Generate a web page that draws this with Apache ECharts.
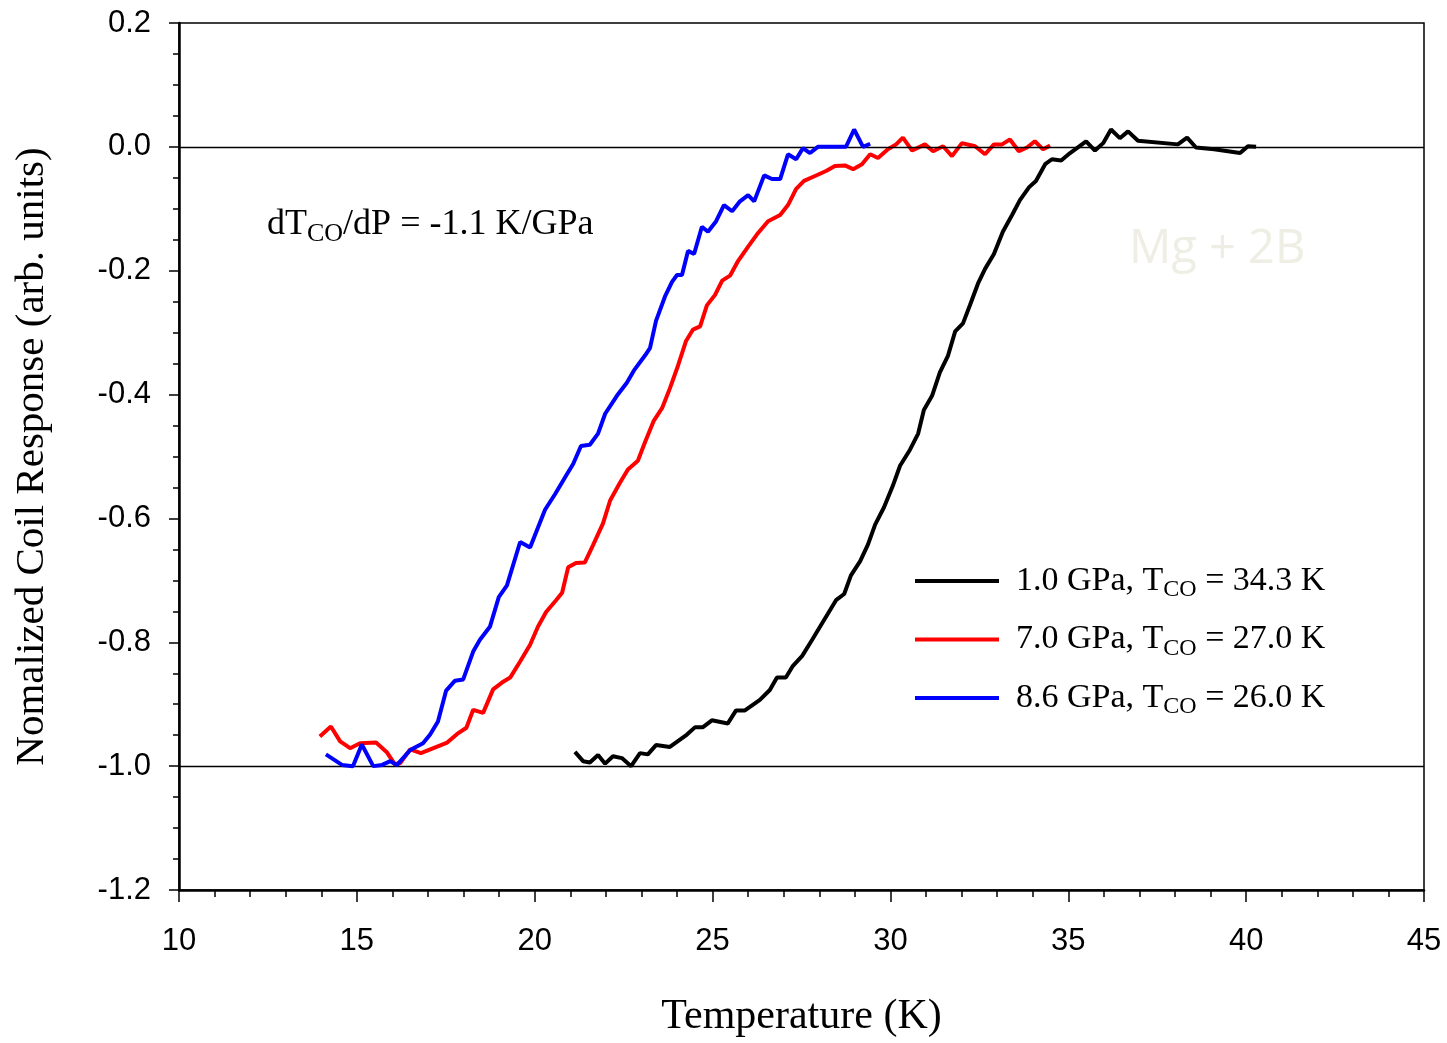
<!DOCTYPE html>
<html>
<head>
<meta charset="utf-8">
<script src="https://cdn.jsdelivr.net/npm/echarts@6/dist/echarts.min.js"></script>
<style>html,body{margin:0;padding:0;background:#fff;}#c{width:1447px;height:1043px;}</style>
</head>
<body>
<div id="c"></div>
<script>
// ---- Data ----
const xTicks = [10, 15, 20, 25, 30, 35, 40, 45];
const yTicks = [0.2, 0.0, -0.2, -0.4, -0.6, -0.8, -1.0, -1.2];

const seriesNames = ['1.0 GPa, T|CO| = 34.3 K', '7.0 GPa, T|CO| = 27.0 K', '8.6 GPa, T|CO| = 26.0 K'];

const tBlack = [21.13,21.36,21.55,21.78,21.98,22.20,22.45,22.71,22.96,23.18,23.41,23.80,24.28,24.51,24.73,24.98,25.43,25.66,25.91,26.33,26.61,26.81,27.06,27.26,27.52,27.80,28.02,28.25,28.47,28.70,28.89,29.15,29.37,29.57,29.82,30.07,30.27,30.55,30.78,30.94,31.17,31.39,31.62,31.82,32.04,32.24,32.46,32.66,32.91,33.16,33.42,33.64,33.90,34.09,34.35,34.54,34.80,35.05,35.50,35.75,35.98,36.20,36.45,36.68,36.96,38.08,38.34,38.59,39.10,39.83,40.05,40.28];
const vBlack = [-0.977,-0.992,-0.994,-0.982,-0.996,-0.984,-0.987,-1.0,-0.979,-0.981,-0.966,-0.969,-0.949,-0.937,-0.937,-0.926,-0.931,-0.910,-0.910,-0.893,-0.877,-0.857,-0.857,-0.838,-0.822,-0.796,-0.775,-0.753,-0.732,-0.722,-0.692,-0.669,-0.642,-0.610,-0.582,-0.547,-0.515,-0.489,-0.463,-0.425,-0.402,-0.364,-0.337,-0.298,-0.285,-0.255,-0.221,-0.197,-0.173,-0.137,-0.110,-0.086,-0.065,-0.055,-0.028,-0.020,-0.022,-0.010,0.009,-0.006,0.006,0.028,0.014,0.025,0.010,0.004,0.015,-0.001,-0.004,-0.010,0.001,0.0];

const tRed = [13.96,14.27,14.53,14.81,15.09,15.54,15.85,16.07,16.22,16.50,16.80,17.54,17.82,18.08,18.27,18.55,18.83,19.08,19.31,19.59,19.87,20.09,20.32,20.60,20.77,20.94,21.16,21.41,21.64,21.92,22.12,22.40,22.62,22.90,23.10,23.35,23.58,23.80,24.03,24.25,24.45,24.65,24.84,25.07,25.27,25.49,25.72,26.00,26.28,26.56,26.90,27.12,27.35,27.57,27.88,28.19,28.44,28.72,28.95,29.20,29.43,29.65,29.93,30.16,30.35,30.61,30.97,31.20,31.48,31.73,32.01,32.38,32.66,32.91,33.14,33.36,33.61,33.84,34.06,34.29,34.49];
const vRed = [-0.952,-0.936,-0.960,-0.971,-0.963,-0.962,-0.978,-0.997,-0.995,-0.973,-0.979,-0.962,-0.948,-0.938,-0.909,-0.914,-0.876,-0.865,-0.857,-0.831,-0.804,-0.775,-0.751,-0.732,-0.720,-0.679,-0.672,-0.671,-0.643,-0.608,-0.571,-0.542,-0.521,-0.507,-0.477,-0.442,-0.422,-0.390,-0.353,-0.314,-0.295,-0.290,-0.256,-0.239,-0.216,-0.208,-0.184,-0.161,-0.139,-0.120,-0.110,-0.094,-0.068,-0.055,-0.047,-0.039,-0.031,-0.030,-0.036,-0.028,-0.012,-0.018,-0.004,0.004,0.015,-0.006,0.004,-0.007,0.001,-0.015,0.006,0.001,-0.012,0.004,0.004,0.012,-0.007,-0.001,0.009,-0.004,0.002];

const tBlue = [14.13,14.58,14.89,15.14,15.46,15.71,15.94,16.13,16.50,16.86,17.06,17.28,17.51,17.76,17.99,18.27,18.46,18.74,18.99,19.22,19.59,19.87,20.29,20.57,20.88,21.08,21.30,21.55,21.78,21.98,22.31,22.59,22.79,23.10,23.24,23.41,23.66,23.86,24.00,24.14,24.31,24.48,24.70,24.87,25.10,25.32,25.55,25.77,26.00,26.17,26.45,26.67,26.90,27.12,27.35,27.54,27.74,27.96,28.19,28.75,28.98,29.23,29.43];
const vBlue = [-0.981,-0.998,-1.0,-0.965,-1.0,-0.998,-0.992,-0.998,-0.974,-0.963,-0.949,-0.928,-0.878,-0.862,-0.860,-0.815,-0.796,-0.775,-0.727,-0.708,-0.638,-0.647,-0.586,-0.561,-0.531,-0.512,-0.483,-0.481,-0.463,-0.431,-0.402,-0.381,-0.361,-0.337,-0.325,-0.281,-0.242,-0.218,-0.207,-0.207,-0.168,-0.173,-0.129,-0.137,-0.120,-0.094,-0.104,-0.088,-0.078,-0.088,-0.046,-0.052,-0.052,-0.012,-0.020,-0.002,-0.010,0.0,0.0,0.0,0.028,0.0,0.005];

const refLines = [0.0, -1.0];
const annotation = ['dT', 'CO', '/dP = -1.1 K/GPa'];
const watermark = 'Mg + 2B';

// ---- Build ----
function pairs(t, v) { return t.map((x, i) => [x, v[i]]); }
const colors = ['#000000', '#ff0000', '#0000ff'];
const dataSets = [pairs(tBlack, vBlack), pairs(tRed, vRed), pairs(tBlue, vBlue)];
const serif = '"Liberation Serif","Times New Roman",serif';
const sans = '"Liberation Sans",Arial,sans-serif';

const chart = echarts.init(document.getElementById('c'), null, {renderer: 'canvas'});
const series = dataSets.map((d, i) => ({
  name: seriesNames[i],
  type: 'line',
  data: d,
  showSymbol: false,
  symbol: 'none',
  lineStyle: {color: colors[i], width: 4},
  itemStyle: {color: colors[i]},
  z: 3 + i,
  animation: false
}));
series.push({
  type: 'line', data: [], silent: true, z: 2,
  markLine: {
    silent: true, symbol: 'none', animation: false,
    label: {show: false},
    lineStyle: {color: '#000', width: 1.3, type: 'solid'},
    data: refLines.map(v => ({yAxis: v}))
  }
});

chart.setOption({
  animation: false,
  backgroundColor: '#fff',
  grid: {left: 179, right: 23, top: 23, bottom: 149, show: true, borderColor: '#000', borderWidth: 1.5, backgroundColor: 'transparent'},
  xAxis: {
    type: 'value', min: xTicks[0], max: xTicks[xTicks.length - 1], interval: 5,
    name: 'Temperature (K)', nameLocation: 'middle', nameGap: 106,
    nameTextStyle: {fontFamily: serif, fontSize: 42, color: '#000'},
    axisLine: {onZero: false, lineStyle: {color: '#000', width: 2.5}},
    axisTick: {show: true, inside: false, length: 12, lineStyle: {color: '#000', width: 1.5}},
    minorTick: {show: true, splitNumber: 5, length: 7, lineStyle: {color: '#000', width: 1.5}},
    splitLine: {show: false},
    axisLabel: {fontFamily: sans, fontSize: 31, color: '#000', margin: 36}
  },
  yAxis: {
    type: 'value', min: yTicks[yTicks.length - 1], max: yTicks[0], interval: 0.2,
    name: 'Nomalized Coil Response (arb. units)', nameLocation: 'middle', nameGap: 126, nameRotate: 90,
    nameTextStyle: {fontFamily: serif, fontSize: 41, color: '#000'},
    axisLine: {onZero: false, lineStyle: {color: '#000', width: 2.5}},
    axisTick: {show: true, inside: false, length: 10, lineStyle: {color: '#000', width: 1.5}},
    minorTick: {show: true, splitNumber: 4, length: 6, lineStyle: {color: '#000', width: 1.5}},
    splitLine: {show: false},
    axisLabel: {fontFamily: sans, fontSize: 31, color: '#000', margin: 28,
      formatter: v => (Math.abs(v) < 1e-9 ? 0 : v).toFixed(1)}
  },
  legend: {
    show: true, orient: 'vertical', left: 910, top: 559,
    itemWidth: 84, itemHeight: 4, itemGap: 20.5, icon: 'rect',
    data: seriesNames.map((n, i) => ({name: n, itemStyle: {color: colors[i]}})),
    formatter: function (name) {
      const p = name.split('|');
      return '{a|' + p[0] + '}{s|' + p[1] + '}{a|' + p[2] + '}';
    },
    textStyle: {
      padding: [0, 0, 0, 12],
      rich: {
        a: {fontFamily: serif, fontSize: 34, color: '#000', height: 36},
        s: {fontFamily: serif, fontSize: 24, color: '#000', verticalAlign: 'bottom', padding: [18, 0, 0, 0]}
      }
    }
  },
  graphic: [
    {
      type: 'text', left: 267, top: 207, silent: true,
      style: {
        text: '{a|' + annotation[0] + '}{s|' + annotation[1] + '}{a|' + annotation[2] + '}',
        rich: {
          a: {fontFamily: serif, fontSize: 36, fill: '#000'},
          s: {fontFamily: serif, fontSize: 26, fill: '#000', padding: [19, 0, 0, 0]}
        }
      }
    },
    {
      type: 'text', left: 1129, top: 226, silent: true, z: 0,
      style: {text: watermark, fontFamily: '"Open Sans",sans-serif', fontSize: 47, fill: '#efeee4'}
    }
  ],
  series: series
});
</script>
</body>
</html>
